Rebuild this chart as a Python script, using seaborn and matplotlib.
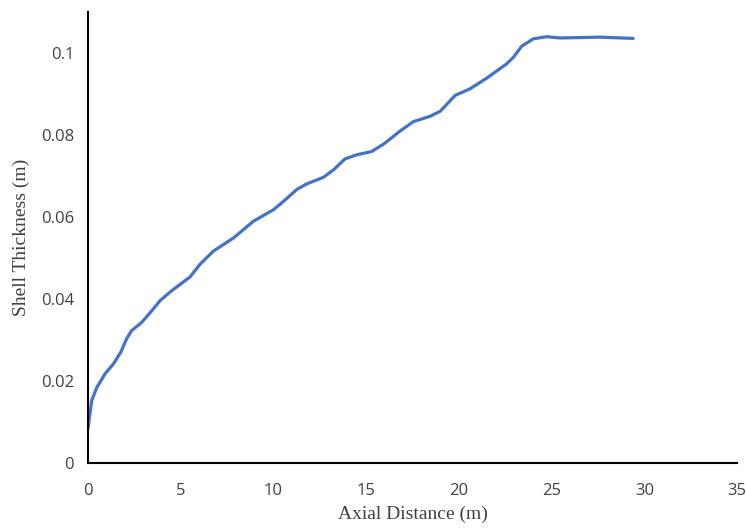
import matplotlib
matplotlib.use("Agg")
import matplotlib.pyplot as plt
import seaborn as sns
import pandas as pd

axial_distance = [0.0, 0.2, 0.47, 0.92, 1.37, 1.76, 2.08, 2.35, 2.89, 3.43, 3.88,
                  4.5, 5.0, 5.5, 6.04, 6.76, 7.84, 8.92, 10.0, 10.53, 11.25, 11.79,
                  12.69, 13.23, 13.86, 14.49, 15.3, 16.0, 16.83, 17.55, 18.45, 18.99,
                  19.8, 20.6, 21.5, 22.58, 22.94, 23.39, 24.02, 24.74, 25.46, 27.6, 29.4]
shell_thickness = [0.0085, 0.0153, 0.0184, 0.0218, 0.0242, 0.027, 0.0303, 0.0323, 0.0343,
                   0.0371, 0.0396, 0.042, 0.0437, 0.0454, 0.0485, 0.0517, 0.0549, 0.059,
                   0.0618, 0.0638, 0.0667, 0.0681, 0.0697, 0.0715, 0.0742, 0.0752, 0.076,
                   0.078, 0.081, 0.0833, 0.0846, 0.0858, 0.0897, 0.0913, 0.0939, 0.0974,
                   0.099, 0.1017, 0.1035, 0.104, 0.1037, 0.1039, 0.1036]
x_ticks = [0, 5, 10, 15, 20, 25, 30, 35]
y_ticks = [0, 0.02, 0.04, 0.06, 0.08, 0.1]
y_tick_labels = ["0", "0.02", "0.04", "0.06", "0.08", "0.1"]

df = pd.DataFrame({"x": axial_distance, "y": shell_thickness})

sns.set_style("white")
fig = plt.figure(figsize=(7.46, 5.28), dpi=100)
ax = fig.add_axes([0.118, 0.123, 0.870, 0.854])
sns.lineplot(data=df, x="x", y="y", ax=ax, color="#4472C4", linewidth=2.3, sort=False,
             solid_joinstyle="round", solid_capstyle="round")

ax.set_xlim(0, 35)
ax.set_ylim(0, 0.11)
ax.set_xticks(x_ticks)
ax.set_xticklabels([str(t) for t in x_ticks])
ax.set_yticks(y_ticks)
ax.set_yticklabels(y_tick_labels)
for lbl in ax.get_xticklabels() + ax.get_yticklabels():
    lbl.set_fontfamily("Open Sans")
    lbl.set_fontsize(12)
    lbl.set_color("#404040")
ax.tick_params(direction="in", length=5, width=1.2, colors="black", labelcolor="#404040", pad=10)
ax.tick_params(axis="x", pad=14)
for s in ["top", "right"]:
    ax.spines[s].set_visible(False)
for s in ["left", "bottom"]:
    ax.spines[s].set_color("black")
    ax.spines[s].set_linewidth(1.5)

ax.set_xlabel("Axial Distance (m)", fontfamily="Liberation Serif", fontsize=14, color="#404040", labelpad=5)
ax.set_ylabel("Shell Thickness (m)", fontfamily="Liberation Serif", fontsize=14, color="#404040", labelpad=8)

fig.savefig("out.png", dpi=100)
